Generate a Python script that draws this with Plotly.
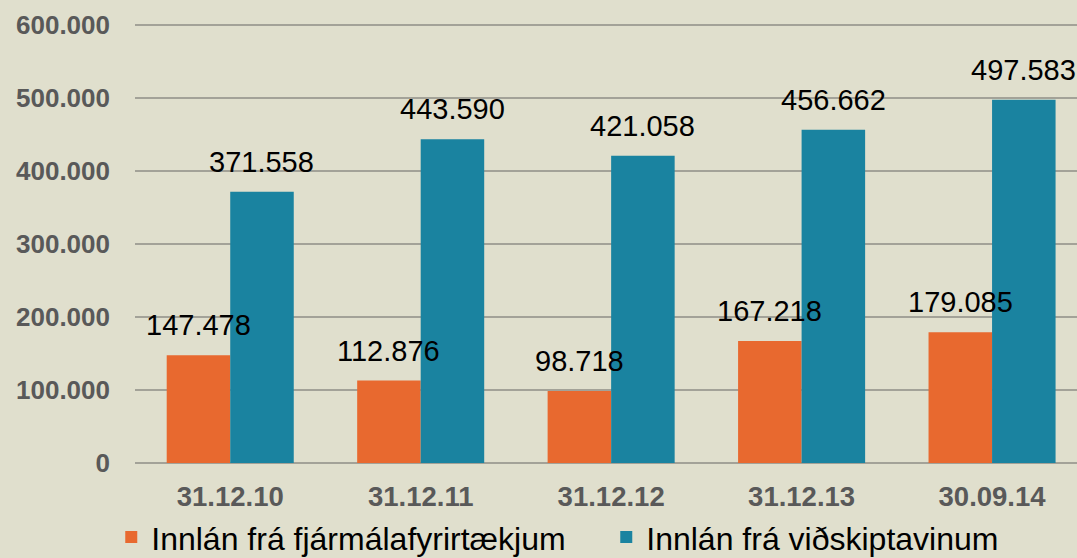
import plotly.graph_objects as go

categories = ["31.12.10", "31.12.11", "31.12.12", "31.12.13", "30.09.14"]
fin_values = [147478, 112876, 98718, 167218, 179085]
cust_values = [371558, 443590, 421058, 456662, 497583]
series_names = ["Innlán frá fjármálafyrirtækjum", "Innlán frá viðskiptavinum"]
y_ticks = [0, 100000, 200000, 300000, 400000, 500000, 600000]

ORANGE = "#e8692f"
TEAL = "#1a83a0"
BG = "#e0dfcd"
FONT = "Liberation Sans, Arial, sans-serif"

def fmt(v):
    return f"{v:,}".replace(",", ".")

fig = go.Figure()
fig.add_trace(go.Bar(x=categories, y=fin_values, name=series_names[0], legend="legend",
                     marker=dict(color=ORANGE, line=dict(width=0))))
fig.add_trace(go.Bar(x=categories, y=cust_values, name=series_names[1], legend="legend2",
                     marker=dict(color=TEAL, line=dict(width=0))))

annotations = []
for i, c in enumerate(categories):
    for vals, shift in ((fin_values, -31.75), (cust_values, 31.75)):
        annotations.append(dict(x=c, y=vals[i], xref="x", yref="y", text=fmt(vals[i]),
                                showarrow=False, xshift=shift, yshift=12, yanchor="bottom",
                                xanchor="center",
                                font=dict(family=FONT, size=29, color="#000000")))

# plot area: 600k at 25px, 0 at 463px; range extended to 610k so top gridline shows
legend_common = dict(orientation="h", y=-0.105, xanchor="left", yanchor="top",
                     font=dict(family=FONT, size=32, color="#000000"),
                     bgcolor="rgba(0,0,0,0)", itemwidth=30)

fig.update_layout(
    width=1077, height=558,
    margin=dict(l=135, r=0, t=18, b=95, autoexpand=False),
    paper_bgcolor=BG, plot_bgcolor=BG,
    separators=",.",
    barmode="group", bargap=0.333, bargroupgap=0,
    annotations=annotations,
    showlegend=True,
    legend=dict(x=-0.0252, **legend_common),
    legend2=dict(x=-0.0252 + 495 / 942, **legend_common),
    xaxis=dict(range=[-0.5, 4.446], showgrid=False, zeroline=False, showline=False,
               tickfont=dict(family=FONT, size=27.5, color="#595959", weight="bold"),
               ticks="", ticklabelstandoff=14),
    yaxis=dict(range=[0, 609600], tickvals=y_ticks, tickformat=",.0f",
               showgrid=True, gridcolor="#a3a298", gridwidth=2,
               zeroline=True, zerolinecolor="#a3a298", zerolinewidth=2,
               showline=False, ticks="", ticklabelstandoff=24,
               tickfont=dict(family=FONT, size=26, color="#595959", weight="bold")),
    font=dict(family=FONT),
)

fig.write_html("out.html", config={"displayModeBar": False},
               post_script="document.body.style.margin='0';")
